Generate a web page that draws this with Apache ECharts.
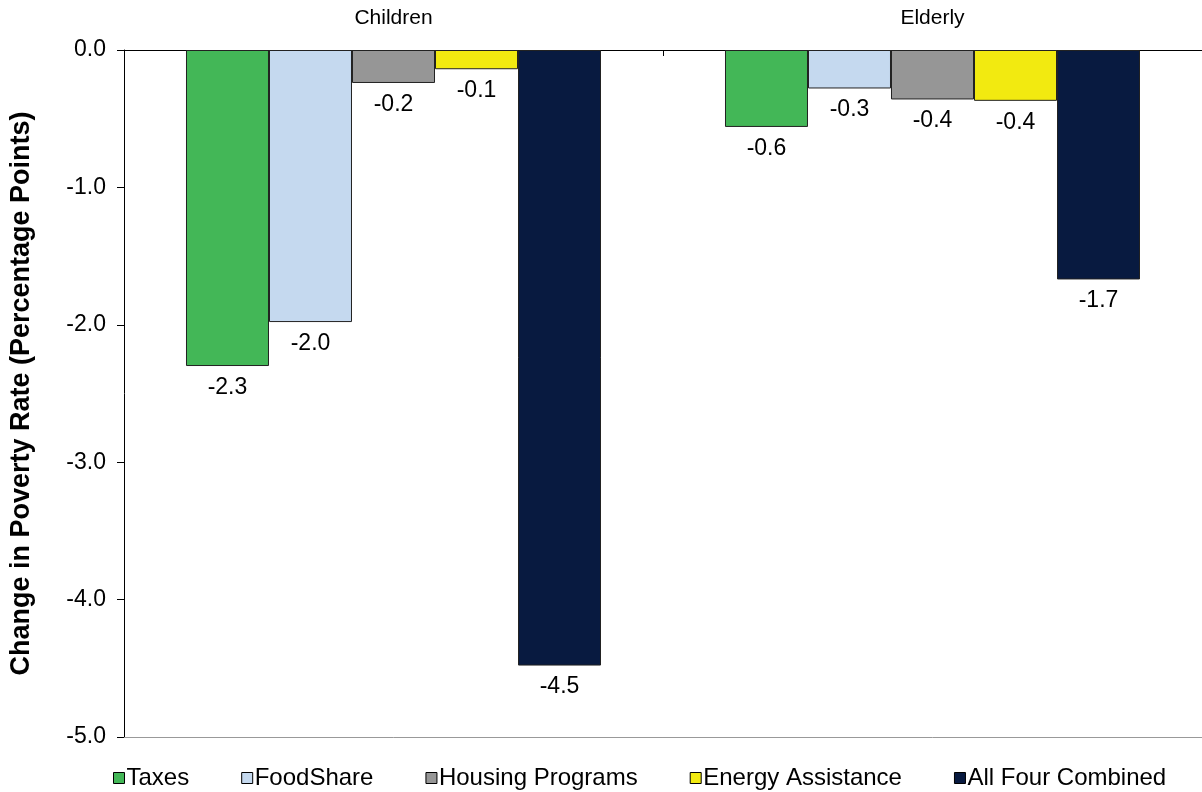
<!DOCTYPE html>
<html>
<head>
<meta charset="utf-8">
<script src="https://cdn.jsdelivr.net/npm/echarts@6/dist/echarts.min.js"></script>
<style>
  html, body { margin: 0; padding: 0; background: #fff; }
  #chart { width: 1202px; height: 792px; }
</style>
</head>
<body>
<div id="chart"></div>
<script>
var groups = ['Children', 'Elderly'];
var seriesNames = ['Taxes', 'FoodShare', 'Housing Programs', 'Energy Assistance', 'All Four Combined'];
var taxes = [-2.30, -0.56];
var foodShare = [-1.98, -0.28];
var housing = [-0.24, -0.36];
var energy = [-0.14, -0.37];
var combined = [-4.48, -1.67];
var colors = ['#43B757', '#C5D9EF', '#969696', '#F2EA10', '#081A40'];

var chart = echarts.init(document.getElementById('chart'));
var allData = [taxes, foodShare, housing, energy, combined];

var series = seriesNames.map(function (name, i) {
    return {
        name: name,
        type: 'bar',
        barGap: '0%',
        barCategoryGap: '23%',
        data: allData[i],
        itemStyle: { color: colors[i], borderColor: '#222', borderWidth: 1 },
        label: {
            show: true,
            position: 'bottom',
            distance: 10,
            color: '#000',
            fontSize: 23,
            formatter: function (p) { return p.value.toFixed(1); }
        }
    };
});

var option = {
    animation: false,
    textStyle: { fontFamily: 'Liberation Sans, Arial, sans-serif' },
    color: colors,
    grid: { left: 120, right: -6, top: 50, bottom: 55 },
    legend: {
        top: 761,
        left: 108,
        itemWidth: 11,
        itemHeight: 11,
        itemGap: 52,
        icon: 'rect',
        itemStyle: { borderColor: '#000', borderWidth: 1 },
        textStyle: { fontSize: 24, color: '#000', padding: [0, 0, 0, -3] },
        data: seriesNames
    },
    xAxis: [{
        type: 'category',
        position: 'top',
        data: groups,
        axisLine: { lineStyle: { color: '#000', width: 1 } },
        axisTick: { show: true, inside: true, length: 6, lineStyle: { color: '#000' } },
        axisLabel: { fontSize: 21, color: '#000', margin: 21 }
    }, {
        type: 'category',
        position: 'bottom',
        data: groups,
        axisLine: { onZero: false, lineStyle: { color: '#999', width: 1 } },
        axisTick: { show: false },
        axisLabel: { show: false }
    }],
    yAxis: {
        type: 'value',
        min: -5,
        max: 0,
        interval: 1,
        name: 'Change in Poverty Rate (Percentage Points)',
        nameLocation: 'middle',
        nameGap: 89,
        nameTextStyle: { fontSize: 27, fontWeight: 'bold', color: '#000' },
        axisLine: { show: true, lineStyle: { color: '#000' } },
        axisTick: { show: true, length: 7, lineStyle: { color: '#000' } },
        axisLabel: {
            fontSize: 23, color: '#000', margin: 18,
            formatter: function (v) { return v.toFixed(1); }
        },
        splitLine: { show: false }
    },
    series: series
};

chart.setOption(option);
</script>
</body>
</html>
